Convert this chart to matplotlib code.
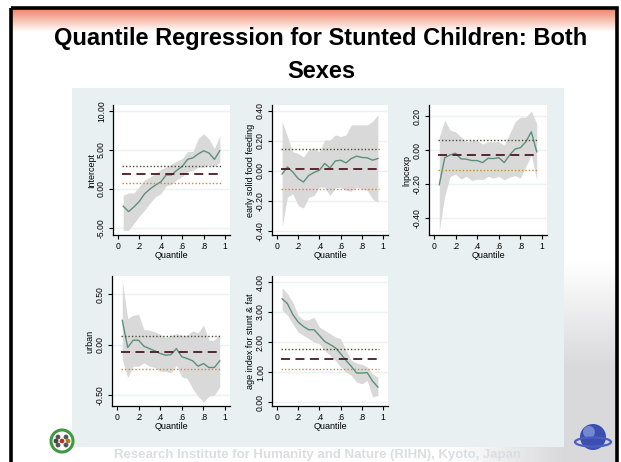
import numpy as np
import matplotlib
matplotlib.use("Agg")
import matplotlib.pyplot as plt
from matplotlib.patches import Rectangle, Circle, Ellipse

plt.rcParams['font.family'] = ['Liberation Sans', 'DejaVu Sans']

# ---------------- data ----------------
quantiles = [0.05, 0.10, 0.15, 0.20, 0.25, 0.30, 0.35, 0.40, 0.45, 0.50,
             0.55, 0.60, 0.65, 0.70, 0.75, 0.80, 0.85, 0.90, 0.95]

intercept_coef = [-2.2, -2.9, -2.3, -1.6, -0.6, 0.0, 0.5, 0.9, 1.8, 1.8,
                  2.4, 2.9, 3.8, 4.0, 4.5, 4.9, 4.6, 3.8, 4.9]
intercept_hi = [-0.8, -0.5, -0.5, 0.3, 1.2, 1.5, 2.0, 2.5, 2.8, 3.2,
                3.6, 3.9, 4.8, 4.8, 6.5, 7.1, 6.4, 5.2, 6.8]
intercept_lo = [-5.3, -5.3, -4.4, -3.5, -2.7, -1.8, -1.0, -0.6, 0.4, 0.6,
                1.2, 1.6, 2.2, 2.4, 2.8, 2.8, 3.1, 2.9, 3.4]
intercept_ols = [1.88, 0.73, 3.0]

food_coef = [-0.02, 0.027, -0.007, -0.05, -0.074, -0.03, -0.01, 0.005, 0.05, 0.02,
             0.067, 0.072, 0.054, 0.083, 0.099, 0.09, 0.088, 0.072, 0.083]
food_hi = [0.33, 0.23, 0.128, 0.117, 0.094, 0.14, 0.155, 0.128, 0.207, 0.207,
           0.24, 0.23, 0.24, 0.308, 0.308, 0.308, 0.308, 0.33, 0.375]
food_lo = [-0.37, -0.175, -0.153, -0.23, -0.247, -0.175, -0.164, -0.108, -0.108, -0.164,
           -0.112, -0.108, -0.13, -0.135, -0.108, -0.12, -0.13, -0.187, -0.209]
food_ols = [0.011, -0.119, 0.144]

pcexp_coef = [-0.204, -0.045, -0.029, -0.019, -0.052, -0.054, -0.062, -0.062, -0.074, -0.049,
              -0.05, -0.045, -0.074, -0.029, 0.006, 0.014, 0.049, 0.107, -0.01]
pcexp_hi = [0.078, 0.175, 0.117, 0.107, 0.078, 0.049, 0.058, 0.058, 0.035, 0.049,
            0.049, 0.049, 0.029, 0.097, 0.165, 0.194, 0.194, 0.229, 0.155]
pcexp_lo = [-0.476, -0.272, -0.155, -0.142, -0.171, -0.155, -0.179, -0.171, -0.175, -0.155,
            -0.165, -0.155, -0.175, -0.159, -0.151, -0.165, -0.097, -0.029, -0.175]
pcexp_ols = [-0.031, -0.12, 0.058]

urban_coef = [0.24, -0.03, 0.043, 0.043, -0.017, -0.04, -0.063, -0.089, -0.106, -0.1,
              -0.04, -0.122, -0.139, -0.162, -0.215, -0.189, -0.228, -0.228, -0.162]
urban_hi = [0.63, 0.258, 0.29, 0.30, 0.149, 0.142, 0.126, 0.103, 0.07, 0.093,
            0.109, 0.093, 0.093, 0.136, 0.116, 0.192, 0.043, 0.043, 0.103]
urban_lo = [-0.149, -0.328, -0.215, -0.215, -0.182, -0.215, -0.228, -0.265, -0.265, -0.281,
            -0.205, -0.321, -0.338, -0.437, -0.513, -0.57, -0.513, -0.503, -0.42]
urban_ols = [-0.079, -0.242, 0.083]

age_coef = [3.44, 3.28, 2.92, 2.67, 2.52, 2.41, 2.41, 2.22, 2.02, 1.92,
            1.81, 1.61, 1.39, 1.19, 0.97, 0.97, 0.98, 0.70, 0.50]
age_hi = [3.81, 3.61, 3.33, 2.89, 2.74, 2.74, 2.83, 2.50, 2.39, 2.28,
          2.17, 2.11, 1.72, 1.39, 1.30, 1.26, 1.17, 0.94, 0.83]
age_lo = [3.06, 2.89, 2.61, 2.33, 2.22, 2.11, 2.00, 1.94, 1.72, 1.56,
          1.39, 1.17, 1.00, 0.89, 0.67, 0.61, 0.72, 0.17, 0.22]
age_ols = [1.42, 1.11, 1.76]

x_ticks = [0, 0.2, 0.4, 0.6, 0.8, 1.0]
x_ticklabels = ["0", ".2", ".4", ".6", ".8", "1"]

title_line1 = "Quantile Regression for Stunted Children: Both"
title_line2 = "Sexes"
footer_text = "Research Institute for Humanity and Nature (RIHN), Kyoto, Japan"

# ---------------- figure ----------------
W, H = 621, 462
fig = plt.figure(figsize=(W / 100, H / 100), dpi=100)
fig.patch.set_facecolor("white")

bg = fig.add_axes([0, 0, 1, 1], zorder=-10)
bg.set_xlim(0, W)
bg.set_ylim(H, 0)
bg.axis("off")

# stone-like gray area at lower right
n = 200
img = np.zeros((n, n, 4))
yy, xx = np.meshgrid(np.linspace(0, 1, n), np.linspace(0, 1, n), indexing="ij")
alpha = np.clip(yy * 2.0 - 0.1, 0, 1) * np.clip(xx * 1.6 - 0.1, 0, 1)
img[..., 0] = 0.83
img[..., 1] = 0.83
img[..., 2] = 0.84
img[..., 3] = alpha * 0.85
bg.imshow(img, extent=[440, 618, 462, 250], aspect="auto", zorder=1, interpolation="bilinear")

# orange header gradient
g = np.linspace(0, 1, 50)[:, None]
top = np.array([0.94, 0.50, 0.38])
hdr = np.ones((50, 2, 3)) * (top[None, None, :] * (1 - g[:, :, None]) + np.ones(3)[None, None, :] * g[:, :, None])
bg.imshow(hdr, extent=[11, 617, 32, 8], aspect="auto", zorder=2)

# footer text (partly behind panel)
bg.text(317, 455, footer_text, ha="center", va="center", fontsize=9.5,
        fontweight="bold", color="#dadee0", zorder=3)

# slide frame
bg.add_patch(Rectangle((11, 8), 606, 470, fill=False, lw=2.6, edgecolor="black", zorder=6))

# panel
bg.add_patch(Rectangle((72, 88), 492, 359, facecolor="#e9f0f2", edgecolor="none", zorder=4))

# title
bg.text(321, 38, title_line1, ha="center", va="center", fontsize=17,
        fontweight="bold", color="black", zorder=7)
bg.text(321, 71, title_line2, ha="center", va="center", fontsize=17,
        fontweight="bold", color="black", zorder=7)

# left logo
bg.add_patch(Circle((62, 441), 11, fill=False, lw=2.2, edgecolor="#3f9a3f", zorder=7))
for dx, dy, c in [(-4, -4, "#555"), (4, -4, "#555"), (-4, 4, "#555"), (4, 4, "#555"),
                  (0, 0, "#c03020"), (-6, 0, "#444"), (6, 0, "#a0802a")]:
    bg.add_patch(Circle((62 + dx, 441 + dy), 2.4, facecolor=c, edgecolor="none", zorder=8))

# right globe logo
bg.add_patch(Circle((593, 437), 13, facecolor="#3a4fb0", edgecolor="none", zorder=7))
bg.add_patch(Circle((589, 432), 6, facecolor="#8f9fe0", edgecolor="none", alpha=0.7, zorder=8))
bg.add_patch(Ellipse((593, 442), 36, 9, fill=False, lw=1.6, edgecolor="#4a5fc0", zorder=9))

# ---------------- panels ----------------
panels = [
    ("Intercept", intercept_coef, intercept_lo, intercept_hi, intercept_ols,
     (113, 230, 105, 235), (-5.9, 10.77), [-5, 0, 5, 10]),
    ("early solid food feeding", food_coef, food_lo, food_hi, food_ols,
     (272, 388, 105, 235), (-0.427, 0.44), [-0.4, -0.2, 0.0, 0.2, 0.4]),
    ("lnpcexp", pcexp_coef, pcexp_lo, pcexp_hi, pcexp_ols,
     (429, 547, 105, 235), (-0.50, 0.265), [-0.4, -0.2, 0.0, 0.2]),
    ("urban", urban_coef, urban_lo, urban_hi, urban_ols,
     (112, 230, 276, 406), (-0.61, 0.68), [-0.5, 0.0, 0.5]),
    ("age index for stunt & fat", age_coef, age_lo, age_hi, age_ols,
     (272, 388, 276, 406), (-0.13, 4.2), [0, 1, 2, 3, 4]),
]

for label, coef, lo, hi, ols, (l, r, t, b), ylim, yt in panels:
    ax = fig.add_axes([l / W, 1 - b / H, (r - l) / W, (b - t) / H], zorder=5)
    ax.set_facecolor("white")
    ax.fill_between(quantiles, lo, hi, color="#d9d9d9", lw=0, zorder=1)
    ax.plot(quantiles, coef, color="#5d8f7d", lw=1.0, zorder=3)
    ax.axhline(ols[0], xmin=0.08, xmax=0.92, color="#4a1a22", lw=1.3,
               dashes=(5, 3), zorder=4)
    ax.axhline(ols[1], xmin=0.08, xmax=0.92, color="#d08a30", lw=1.0,
               dashes=(1, 1.5), zorder=4)
    ax.axhline(ols[2], xmin=0.08, xmax=0.92, color="#4a4a30", lw=1.0,
               dashes=(1, 1.5), zorder=4)
    for v in yt:
        ax.axhline(v, color="#eaf2f3", lw=1.0, zorder=0)
    ax.set_xlim(-0.045, 1.045)
    ax.set_ylim(*ylim)
    ax.set_xticks(x_ticks)
    ax.set_xticklabels(x_ticklabels)
    ax.set_yticks(yt)
    ax.set_yticklabels(["%.2f" % v for v in yt], rotation=90, va="center")
    for s in ["top", "right"]:
        ax.spines[s].set_visible(False)
    for s in ["left", "bottom"]:
        ax.spines[s].set_linewidth(0.9)
        ax.spines[s].set_color("black")
    ax.tick_params(axis="both", length=3, width=0.8, labelsize=6.2, pad=2, colors="black")
    ax.set_xlabel("Quantile", fontsize=6.5, labelpad=0)
    ax.set_ylabel(label, fontsize=6.5, labelpad=1)

fig.savefig("out.png", dpi=100)
